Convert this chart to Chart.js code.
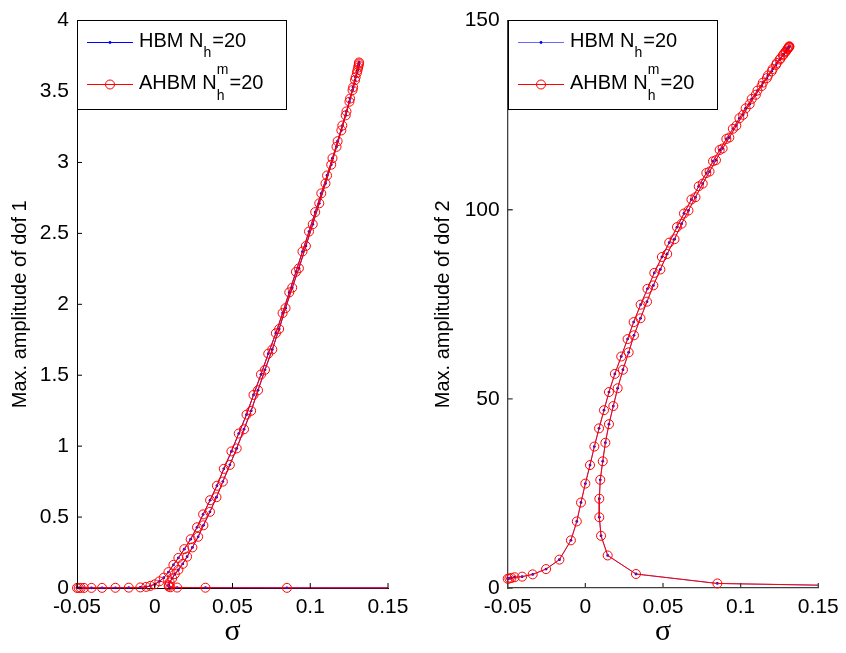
<!DOCTYPE html>
<html>
<head>
<meta charset="utf-8">
<title>Max. amplitude vs sigma</title>
<script src="https://cdn.jsdelivr.net/npm/chart.js@4.4.1/dist/chart.umd.min.js"></script>
<style>
  html, body { margin: 0; padding: 0; background: #fff; }
  #wrap { position: relative; width: 846px; height: 653px; overflow: hidden; }
  .panel { position: absolute; top: 0; width: 423px; height: 653px; }
</style>
</head>
<body>
<div id="wrap">
  <div class="panel" style="left:0"><canvas id="dof1Chart" width="423" height="653"></canvas></div>
  <div class="panel" style="left:423px"><canvas id="dof2Chart" width="423" height="653"></canvas></div>
</div>

<script>
console.log("frequency response page loaded");

/* ================= DATA ================= */

// continuation path: low branch -> upper branch -> fold -> middle branch -> low branch
const sigma = [
  -0.0500, -0.0489, -0.0476, -0.0455, -0.0407, -0.0339, -0.0253, -0.0167, -0.0093, -0.0055,
  -0.0028, 0.0000, 0.0030, 0.0058, 0.0088, 0.0120, 0.0152, 0.0190, 0.0231, 0.0272,
  0.0311, 0.0356, 0.0400, 0.0444, 0.0493, 0.0540, 0.0590, 0.0635, 0.0683, 0.0730,
  0.0779, 0.0822, 0.0865, 0.0908, 0.0950, 0.0992, 0.1032, 0.1071, 0.1108, 0.1143,
  0.1176, 0.1206, 0.1233, 0.1256, 0.1276, 0.1292, 0.1304, 0.1311, 0.1314,
  0.1313, 0.1308, 0.1300, 0.1288, 0.1272, 0.1252, 0.1228, 0.1200, 0.1169, 0.1135,
  0.1098, 0.1058, 0.1016, 0.0972, 0.0927, 0.0884, 0.0841, 0.0800, 0.0756, 0.0709,
  0.0664, 0.0620, 0.0574, 0.0527, 0.0483, 0.0438, 0.0397, 0.0355, 0.0313, 0.0279,
  0.0242, 0.0208, 0.0180, 0.0152, 0.0129, 0.0112, 0.0096, 0.0090, 0.0090, 0.0101,
  0.0144, 0.0326, 0.0850, 0.2000
];

const ampDof1 = [
  0.0005, 0.0005, 0.0006, 0.0006, 0.0008, 0.0010, 0.0015, 0.0025, 0.0040, 0.0080,
  0.015, 0.026, 0.047, 0.073, 0.112, 0.163, 0.212, 0.274, 0.344, 0.428,
  0.519, 0.619, 0.721, 0.840, 0.963, 1.089, 1.222, 1.361, 1.505, 1.652,
  1.796, 1.938, 2.084, 2.229, 2.372, 2.513, 2.650, 2.782, 2.908, 3.030,
  3.150, 3.260, 3.360, 3.450, 3.530, 3.600, 3.650, 3.685, 3.705,
  3.697, 3.669, 3.632, 3.580, 3.510, 3.428, 3.332, 3.226, 3.110, 2.984,
  2.852, 2.712, 2.564, 2.411, 2.254, 2.117, 1.973, 1.826, 1.682, 1.538,
  1.394, 1.249, 1.119, 0.984, 0.868, 0.750, 0.640, 0.537, 0.442, 0.361,
  0.286, 0.221, 0.170, 0.128, 0.098, 0.068, 0.040, 0.020, 0.010, 0.005,
  0.003, 0.002, 0.001, 0.0005
];

const ampDof2 = [
  2.44, 2.53, 2.65, 2.85, 3.0, 3.6, 5.0, 7.5, 12.6, 17.6,
  22.6, 27.6, 32.5, 37.4, 42.2, 47.0, 51.8, 56.6, 61.2, 65.8,
  70.3, 74.9, 79.1, 83.3, 87.5, 91.3, 95.4, 99.0, 102.7, 106.2,
  109.7, 112.8, 115.8, 118.7, 121.4, 124.2, 126.8, 129.3, 131.5, 133.6,
  135.5, 137.2, 138.8, 140.0, 141.1, 141.9, 142.6, 143.0, 143.2,
  143.1, 142.85, 142.4, 141.7, 140.8, 139.7, 138.3, 136.6, 134.8, 132.7,
  130.4, 127.9, 125.1, 122.2, 119.1, 116.2, 113.1, 110.1, 106.9, 103.3,
  99.8, 96.3, 92.2, 88.3, 84.2, 80.0, 75.7, 71.3, 66.8, 62.3,
  57.7, 52.8, 48.1, 43.3, 38.4, 33.5, 28.6, 23.6, 18.7, 13.8,
  8.6, 3.7, 1.2, 0.4
];

// both methods give the same curve, so they share the amplitude lists
const seriesNames = ["HBM", "AHBM"];
const sigmaTicks = [-0.05, 0, 0.05, 0.1, 0.15];
const dof1Ticks = [0, 0.5, 1, 1.5, 2, 2.5, 3, 3.5, 4];
const dof2Ticks = [0, 50, 100, 150];

const legendRows = [
  [{ t: "HBM N" }, { t: "h", sub: true }, { t: "=20" }],
  [{ t: "AHBM N" }, { t: "h", sub: true, sup: "m" }, { t: "=20" }]
];

Chart.defaults.font.family = "'Liberation Sans', Arial, sans-serif";
Chart.defaults.color = "#000";

/* ================= PLUGINS ================= */

// matlab style ticks pointing into the axes
const inwardTicks = {
  id: "inwardTicks",
  afterDatasetsDraw(chart, args, opts) {
    const { ctx, chartArea: a, scales } = chart;
    ctx.save();
    ctx.strokeStyle = opts.color;
    ctx.lineWidth = opts.width;
    ctx.beginPath();
    scales.x.ticks.forEach(t => {
      const px = scales.x.getPixelForValue(t.value);
      ctx.moveTo(px, a.bottom);
      ctx.lineTo(px, a.bottom - 5);
    });
    scales.y.ticks.forEach(t => {
      const py = scales.y.getPixelForValue(t.value);
      ctx.moveTo(a.left, py);
      ctx.lineTo(a.left + 5, py);
    });
    ctx.stroke();
    ctx.restore();
  }
};

// legend with sub/superscripts (N_h, N_h^m)
const texLegend = {
  id: "texLegend",
  afterDraw(chart, args, opts) {
    const { ctx, chartArea: a } = chart;
    const x0 = Math.round(a.left), y0 = Math.round(a.top) - 1;
    const w = 209, h = 89;

    ctx.save();
    ctx.fillStyle = "#fff";
    ctx.fillRect(x0, y0, w, h);
    ctx.strokeStyle = "#000";
    ctx.lineWidth = 1;
    ctx.strokeRect(x0 + 0.5, y0 + 0.5, w, h);

    legendRows.forEach((row, i) => {
      const ly = y0 + 22 + i * 42;
      const ds = chart.data.datasets[opts.order[i]];

      // line sample + marker
      ctx.strokeStyle = ds.borderColor;
      ctx.lineWidth = 1;
      ctx.beginPath();
      ctx.moveTo(x0 + 10, ly + 0.5);
      ctx.lineTo(x0 + 56, ly + 0.5);
      ctx.stroke();
      ctx.beginPath();
      ctx.arc(x0 + 33, ly + 0.5, ds.pointRadius, 0, Math.PI * 2);
      if (ds.pointBackgroundColor !== "transparent") {
        ctx.fillStyle = ds.pointBackgroundColor;
        ctx.fill();
      } else {
        ctx.strokeStyle = ds.pointBorderColor;
        ctx.stroke();
      }

      // text
      let tx = x0 + 62;
      const base = ly + 4.7 + i * 0.3;
      ctx.fillStyle = "#000";
      ctx.textBaseline = "alphabetic";
      ctx.textAlign = "left";
      row.forEach(p => {
        if (p.sub) {
          ctx.font = "14px 'Liberation Sans', Arial, sans-serif";
          ctx.fillText(p.t, tx, base + (p.sup ? 11 : 10));
          let adv = ctx.measureText(p.t).width;
          if (p.sup) {
            ctx.fillText(p.sup, tx, base - 15);
            adv = Math.max(adv, ctx.measureText(p.sup).width);
          }
          tx += adv + 1;
        } else {
          ctx.font = "20px 'Liberation Sans', Arial, sans-serif";
          ctx.fillText(p.t, tx, base);
          tx += ctx.measureText(p.t).width;
        }
      });
    });
    ctx.restore();
  }
};

/* ================= CHARTS ================= */

function fmtTick(v) {
  return String(parseFloat(v.toFixed(2)));
}

function renderPanel(canvasId, amp, yTicks, yTitle, cfg) {
  const canvas = document.getElementById(canvasId);
  if (!canvas) return;

  const points = sigma.map((s, i) => ({ x: s, y: amp[i] }));
  const clip = { left: 8, top: 8, right: 0, bottom: 8 };

  return new Chart(canvas, {
    type: "scatter",
    data: {
      datasets: [
        {
          label: seriesNames[0],
          data: points,
          showLine: true,
          borderColor: cfg.blue,
          borderWidth: 1,
          pointRadius: 1.4,
          pointBackgroundColor: "#0000ff",
          pointBorderWidth: 0,
          clip,
          order: 1
        },
        {
          label: seriesNames[1],
          data: points,
          showLine: true,
          borderColor: "#ff0000",
          borderWidth: 1,
          pointRadius: 4.5,
          pointBackgroundColor: "transparent",
          pointBorderColor: "#ff0000",
          pointBorderWidth: 1,
          clip,
          order: 0
        }
      ]
    },
    options: {
      responsive: false,
      animation: false,
      events: [],
      layout: { padding: { left: 0, top: 12, right: cfg.padRight, bottom: 0 } },
      scales: {
        x: {
          type: "linear",
          min: sigmaTicks[0],
          max: sigmaTicks[sigmaTicks.length - 1],
          afterBuildTicks: s => { s.ticks = sigmaTicks.map(v => ({ value: v })); },
          afterFit: s => { s.height = 65; },
          grid: { display: false, drawTicks: false },
          border: { color: cfg.axis, width: cfg.axisWidth },
          ticks: { autoSkip: false, maxRotation: 0, padding: 7, font: { size: 21 }, callback: fmtTick },
          title: {
            display: true,
            text: "σ",
            font: { family: "'Liberation Serif', 'DejaVu Serif', serif", size: 30 },
            padding: { top: 0, bottom: 3 }
          }
        },
        y: {
          type: "linear",
          min: yTicks[0],
          max: yTicks[yTicks.length - 1],
          afterBuildTicks: s => { s.ticks = yTicks.map(v => ({ value: v })); },
          afterFit: s => { s.width = cfg.axisLeft; },
          grid: { display: false, drawTicks: false },
          border: { color: cfg.axis, width: cfg.axisWidth },
          ticks: { padding: 8, font: { size: 21 }, callback: fmtTick },
          title: {
            display: true,
            text: yTitle,
            font: { size: 20 },
            padding: { top: cfg.titlePad, bottom: 0 }
          }
        }
      },
      plugins: {
        legend: { display: false },
        tooltip: { enabled: false },
        inwardTicks: { color: cfg.axis, width: cfg.axisWidth },
        texLegend: { order: [0, 1] }
      }
    },
    plugins: [inwardTicks, texLegend]
  });
}

renderPanel("dof1Chart", ampDof1, dof1Ticks, "Max. amplitude of dof 1", {
  axisLeft: 77, padRight: 35, titlePad: 8.5, axis: "#000", axisWidth: 1, blue: "#0000ff"
});

renderPanel("dof2Chart", ampDof2, dof2Ticks, "Max. amplitude of dof 2", {
  axisLeft: 84.7, padRight: 27.7, titlePad: 8.5, axis: "#404040", axisWidth: 1.3, blue: "#6a6aff"
});
</script>
</body>
</html>
